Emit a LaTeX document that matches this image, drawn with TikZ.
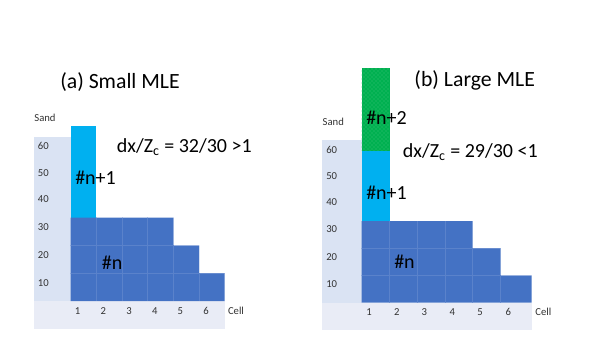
\documentclass[tikz,border=0pt]{standalone}
\usepackage{fontspec}
\setmainfont{Carlito}
\usetikzlibrary{patterns}
\definecolor{dblue}{HTML}{4472C4}
\definecolor{cyanb}{HTML}{00B0F0}
\definecolor{greenb}{HTML}{00B050}
\definecolor{greendot}{HTML}{3CC47A}
\definecolor{vstripc}{HTML}{DAE3F3}
\definecolor{hstripc}{HTML}{E9ECF6}
\definecolor{gridc}{HTML}{5A82CB}
\tikzset{
  big/.style={font=\fontsize{15}{18}\selectfont, inner sep=0pt},
  title/.style={font=\fontsize{16.3}{19}\selectfont, inner sep=0pt},
  small/.style={font=\fontsize{8}{10}\selectfont, inner sep=0pt, text=black!80},
  gridl/.style={draw=gridc, line width=0.5pt},
}
\begin{document}
\begin{tikzpicture}[x=0.75pt,y=-0.75pt]
\useasboundingbox (0,0) rectangle (598,337);
\fill[white] (0,0) rectangle (598,337);
% ---------- left panel ----------
\fill[vstripc] (34,137.3) rectangle (70.7,301);
\fill[hstripc] (34,301) rectangle (224.7,329);
\fill[cyanb] (70.7,126) rectangle (96.3,217.7);
\fill[dblue] (70.7,217.7) -- (173.3,217.7) -- (173.3,245.5) -- (199,245.5) -- (199,273.3) -- (224.7,273.3) -- (224.7,301) -- (70.7,301) -- cycle;
\begin{scope}
\clip (70.7,217.7) -- (173.3,217.7) -- (173.3,245.5) -- (199,245.5) -- (199,273.3) -- (224.7,273.3) -- (224.7,301) -- (70.7,301) -- cycle;
\foreach \xx in {96.3,122,147.6,173.3,199} \draw[gridl] (\xx,200) -- (\xx,301);
\foreach \yy in {245.5,273.3} \draw[gridl] (70,\yy) -- (230,\yy);
\end{scope}
\node[title] (ta) at (120,81.7) {(a) Small MLE};
\node[small] (sa) at (45,118.3) {Sand};
\foreach \v/\yy in {60/145.7,50/172.7,40/199,30/227,20/255,10/282.7}
  \node[small] (la\v) at (43.3,\yy) {\v};
\foreach \c/\xx in {1/77.7,2/103.3,3/129,4/154.7,5/180.3,6/206}
  \node[small] (ca\c) at (\xx,310.7) {\c};
\node[small] (cella) at (236,310.7) {Cell};
\node[big,anchor=west] (n1a) at (75,177.3) {\#n+1};
\node[big] (na) at (112.2,262.3) {\#n};
\node[big,anchor=west] (ra) at (116.7,146.7) {dx/Z\textsubscript{c} = 32/30 >1};
% ---------- right panel ----------
\fill[vstripc] (321.7,140) rectangle (361.7,302.7);
\fill[hstripc] (321.7,302.7) rectangle (531.7,330);
\fill[greenb] (361.7,68.3) rectangle (389.5,150.7);
\fill[pattern=crosshatch dots, pattern color=greendot] (361.7,68.3) rectangle (389.5,150.7);
\fill[cyanb] (361.7,150.7) rectangle (389.5,221);
\fill[dblue] (361.7,221) -- (472.7,221) -- (472.7,248.3) -- (500.7,248.3) -- (500.7,275.7) -- (531.7,275.7) -- (531.7,302.7) -- (361.7,302.7) -- cycle;
\begin{scope}
\clip (361.7,221) -- (472.7,221) -- (472.7,248.3) -- (500.7,248.3) -- (500.7,275.7) -- (531.7,275.7) -- (531.7,302.7) -- (361.7,302.7) -- cycle;
\foreach \xx in {389.5,417.3,445,472.7,500.7} \draw[gridl] (\xx,200) -- (\xx,303);
\foreach \yy in {248.3,275.7} \draw[gridl] (360,\yy) -- (535,\yy);
\end{scope}
\node[title] (tb) at (474.7,80.7) {(b) Large MLE};
\node[small] (sb) at (333.3,122) {Sand};
\foreach \v/\yy in {60/150,50/175.7,40/202.3,30/229,20/256.7,10/284}
  \node[small] (lb\v) at (331.7,\yy) {\v};
\foreach \c/\xx in {1/369,2/396.7,3/424.3,4/452.3,5/480,6/508.3}
  \node[small] (cb\c) at (\xx,312.3) {\c};
\node[small] (cellb) at (543.3,312.3) {Cell};
\node[big,anchor=west] (n2b) at (366,117.3) {\#n+2};
\node[big,anchor=west] (n1b) at (366,192.7) {\#n+1};
\node[big] (nb) at (404.5,261.7) {\#n};
\node[big,anchor=west] (rb) at (402.7,151.7) {dx/Z\textsubscript{c} = 29/30 <1};
\end{tikzpicture}
\end{document}
